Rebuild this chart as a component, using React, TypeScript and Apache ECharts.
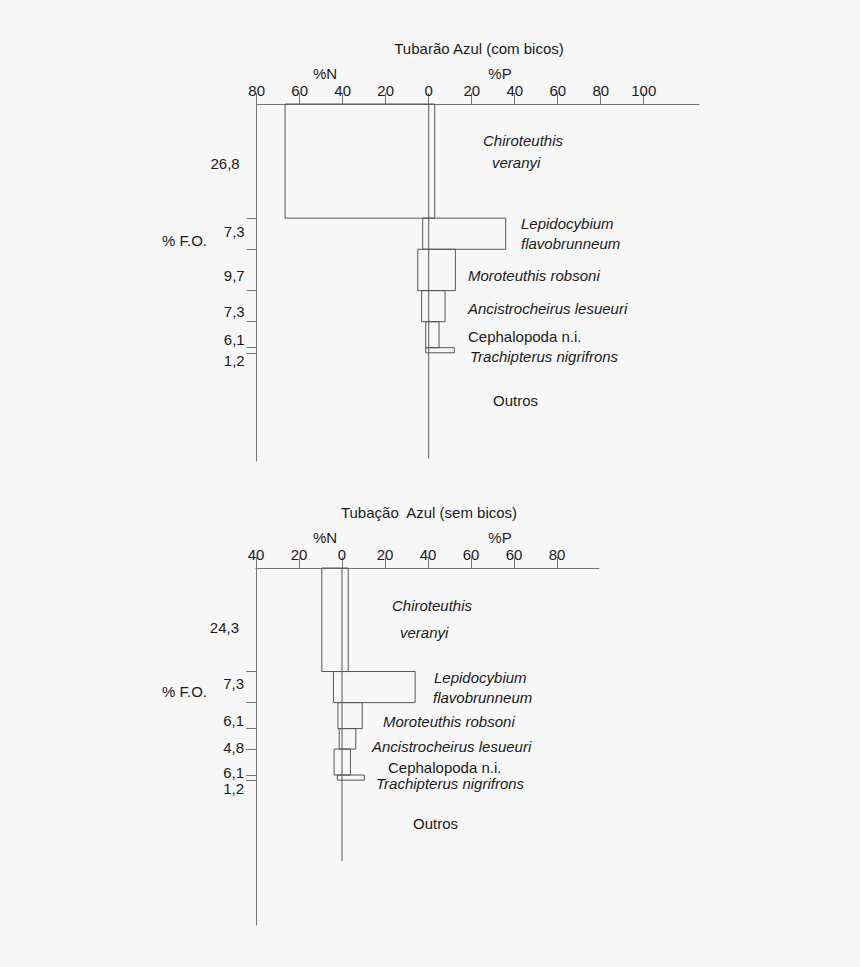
import React, { useEffect, useRef } from 'react';
import * as echarts from 'echarts';

// ---- data ----
const speciesLines = [
  ['Chiroteuthis', 'veranyi'],
  ['Lepidocybium', 'flavobrunneum'],
  ['Moroteuthis robsoni'],
  ['Ancistrocheirus lesueuri'],
  ['Cephalopoda n.i.'],
  ['Trachipterus nigrifrons'],
  ['Outros'],
];
const italicSpecies = [true, true, true, true, false, true, false];

const topTitle = 'Tubarão Azul (com bicos)';
const topFO = [26.8, 7.3, 9.7, 7.3, 6.1, 1.2];
const topN  = [66.8, 2.8, 5.1, 3.3, 1.4, 1.4];
const topP  = [2.8, 35.8, 12.4, 7.6, 4.8, 11.9];
const topTicks      = [-80, -60, -40, -20, 0, 20, 40, 60, 80, 100];
const topTickLabels = ['80', '60', '40', '20', '0', '20', '40', '60', '80', '100'];

const bottomTitle = 'Tubação  Azul (sem bicos)';
const bottomFO = [24.3, 7.3, 6.1, 4.8, 6.1, 1.2];
const bottomN  = [9.4, 4.0, 1.9, 1.3, 3.7, 2.2];
const bottomP  = [2.9, 34.0, 9.4, 6.4, 3.9, 10.4];
const bottomTicks      = [-40, -20, 0, 20, 40, 60, 80, 100];
const bottomTickLabels = ['40', '20', '0', '20', '40', '60', '60', '80'];

// length of the %F.O. axis and of the zero line, in %F.O. units
const foAxisMax = [83.8, 83.8];
const zeroLineEnd = [83.2, 68.8];

// ---- layout / style ----
const FONT = '"Liberation Sans", Arial, sans-serif';
const TEXT = '#1a1a1a';
const AXIS = '#777';
const BAR = '#555';

const panels = [
  {
    title: topTitle, fo: topFO, n: topN, p: topP, ticks: topTicks, tickLabels: topTickLabels,
    xMin: -80, xMax: 125.7,
    grid: { left: 256.7, top: 104, width: 442.3, height: 357 },
    titlePos: [479, 48], nPos: [325, 73], pPos: [500, 73], foPos: [162, 240],
    foDx: [-17, -12, -12, -12, -12, -12],
    foDy: [2, -2, 6, 5, 5, 10],
    labelPos: [
      [[483, 140], [492, 162]],
      [[521, 223], [521, 243]],
      [[468, 275]],
      [[468, 308]],
      [[468, 336]],
      [[470, 356]],
      [[493, 400]],
    ],
  },
  {
    title: bottomTitle, fo: bottomFO, n: bottomN, p: bottomP, ticks: bottomTicks, tickLabels: bottomTickLabels,
    xMin: -40, xMax: 119.5,
    grid: { left: 256, top: 568, width: 343, height: 357 },
    titlePos: [429, 512], nPos: [325, 537], pPos: [500, 537], foPos: [162, 691],
    foDx: [-17, -12, -12, -12, -12, -12],
    foDy: [8, -4, 5, 9, 10, 11],
    labelPos: [
      [[392, 605], [400, 632]],
      [[434, 677], [433, 697]],
      [[383, 721]],
      [[372, 746]],
      [[388, 767]],
      [[376, 783]],
      [[413, 823]],
    ],
  },
];

function fmtComma(v: number) {
  return v.toFixed(1).replace('.', ',');
}

function buildOption(): echarts.EChartsOption {
  const grid: any[] = [];
  const xAxis: any[] = [];
  const yAxis: any[] = [];
  const series: any[] = [];
  const graphic: any[] = [];

  panels.forEach((pn, gi) => {
    // cumulative %F.O. for each prey
    const rows: number[][] = [];
    let acc = 0;
    pn.fo.forEach((f, i) => {
      rows.push([acc, acc + f, pn.n[i], pn.p[i], f, i]);
      acc += f;
    });
    const ends = rows.map(r => r[1]);

    grid.push({ ...pn.grid, containLabel: false });

    xAxis.push({
      type: 'value', gridIndex: gi, position: 'top',
      min: pn.xMin, max: pn.xMax,
      axisLine: { show: true, onZero: false, lineStyle: { color: AXIS, width: 1 } },
      axisTick: { show: true, customValues: pn.ticks, length: 11, lineStyle: { color: AXIS } },
      axisLabel: {
        customValues: pn.ticks, margin: 6, color: TEXT, fontSize: 15, fontFamily: FONT,
        formatter: (v: number) => {
          const k = pn.ticks.findIndex(t => Math.abs(t - v) < 1e-6);
          return k >= 0 ? pn.tickLabels[k] : '';
        },
      },
      splitLine: { show: false },
    });

    yAxis.push({
      type: 'value', gridIndex: gi, inverse: true,
      min: 0, max: foAxisMax[gi],
      axisLine: { show: true, onZero: false, lineStyle: { color: AXIS, width: 1 } },
      axisTick: { show: true, customValues: ends, length: 10, lineStyle: { color: AXIS } },
      axisLabel: { show: false },
      splitLine: { show: false },
    });

    series.push({
      type: 'custom', xAxisIndex: gi, yAxisIndex: gi, clip: false, silent: true,
      data: rows,
      renderItem: (_params: any, api: any) => {
        const y0 = api.value(0), y1 = api.value(1);
        const nv = api.value(2), pv = api.value(3);
        const fo = api.value(4), idx = api.value(5);
        const a = api.coord([-nv, y0]);
        const b = api.coord([pv, y1]);
        const mid = api.coord([pn.xMin, (y0 + y1) / 2]);
        return {
          type: 'group',
          children: [
            {
              type: 'rect',
              shape: { x: a[0], y: a[1], width: b[0] - a[0], height: b[1] - a[1] },
              style: { fill: 'none', stroke: BAR, lineWidth: 1 },
            },
            {
              type: 'text',
              x: mid[0] + pn.foDx[idx], y: mid[1] + pn.foDy[idx],
              style: {
                text: fmtComma(fo), fill: TEXT, font: `15px ${FONT}`,
                align: 'right', verticalAlign: 'middle',
                textAlign: 'right', textVerticalAlign: 'middle',
              },
            },
          ],
        };
      },
    });

    // zero line
    series.push({
      type: 'line', xAxisIndex: gi, yAxisIndex: gi, silent: true,
      symbol: 'none',
      data: [[0, 0], [0, zeroLineEnd[gi]]],
      lineStyle: { color: BAR, width: 1 },
    });

    const txt = (s: string, x: number, y: number, align: string, italic = false) => ({
      type: 'text', x, y, silent: true,
      style: {
        text: s, fill: TEXT, font: `${italic ? 'italic ' : ''}15px ${FONT}`,
        align, verticalAlign: 'middle', textAlign: align, textVerticalAlign: 'middle',
      },
    });

    graphic.push(txt(pn.title, pn.titlePos[0], pn.titlePos[1], 'center'));
    graphic.push(txt('%N', pn.nPos[0], pn.nPos[1], 'center'));
    graphic.push(txt('%P', pn.pPos[0], pn.pPos[1], 'center'));
    graphic.push(txt('% F.O.', pn.foPos[0], pn.foPos[1], 'left'));
    speciesLines.forEach((lines, si) => {
      lines.forEach((line, li) => {
        const pos = pn.labelPos[si][li];
        graphic.push(txt(line, pos[0], pos[1], 'left', italicSpecies[si]));
      });
    });
  });

  return {
    backgroundColor: '#f7f7f7',
    animation: false,
    grid, xAxis, yAxis, series, graphic,
  };
}

export default function App() {
  const ref = useRef<HTMLDivElement>(null);

  useEffect(() => {
    if (!ref.current) return;
    const chart = echarts.init(ref.current, null, { renderer: 'svg' });
    chart.setOption(buildOption());
    return () => chart.dispose();
  }, []);

  return (
    <div
      ref={ref}
      style={{ position: 'absolute', left: 0, top: 0, width: 860, height: 967 }}
    />
  );
}
